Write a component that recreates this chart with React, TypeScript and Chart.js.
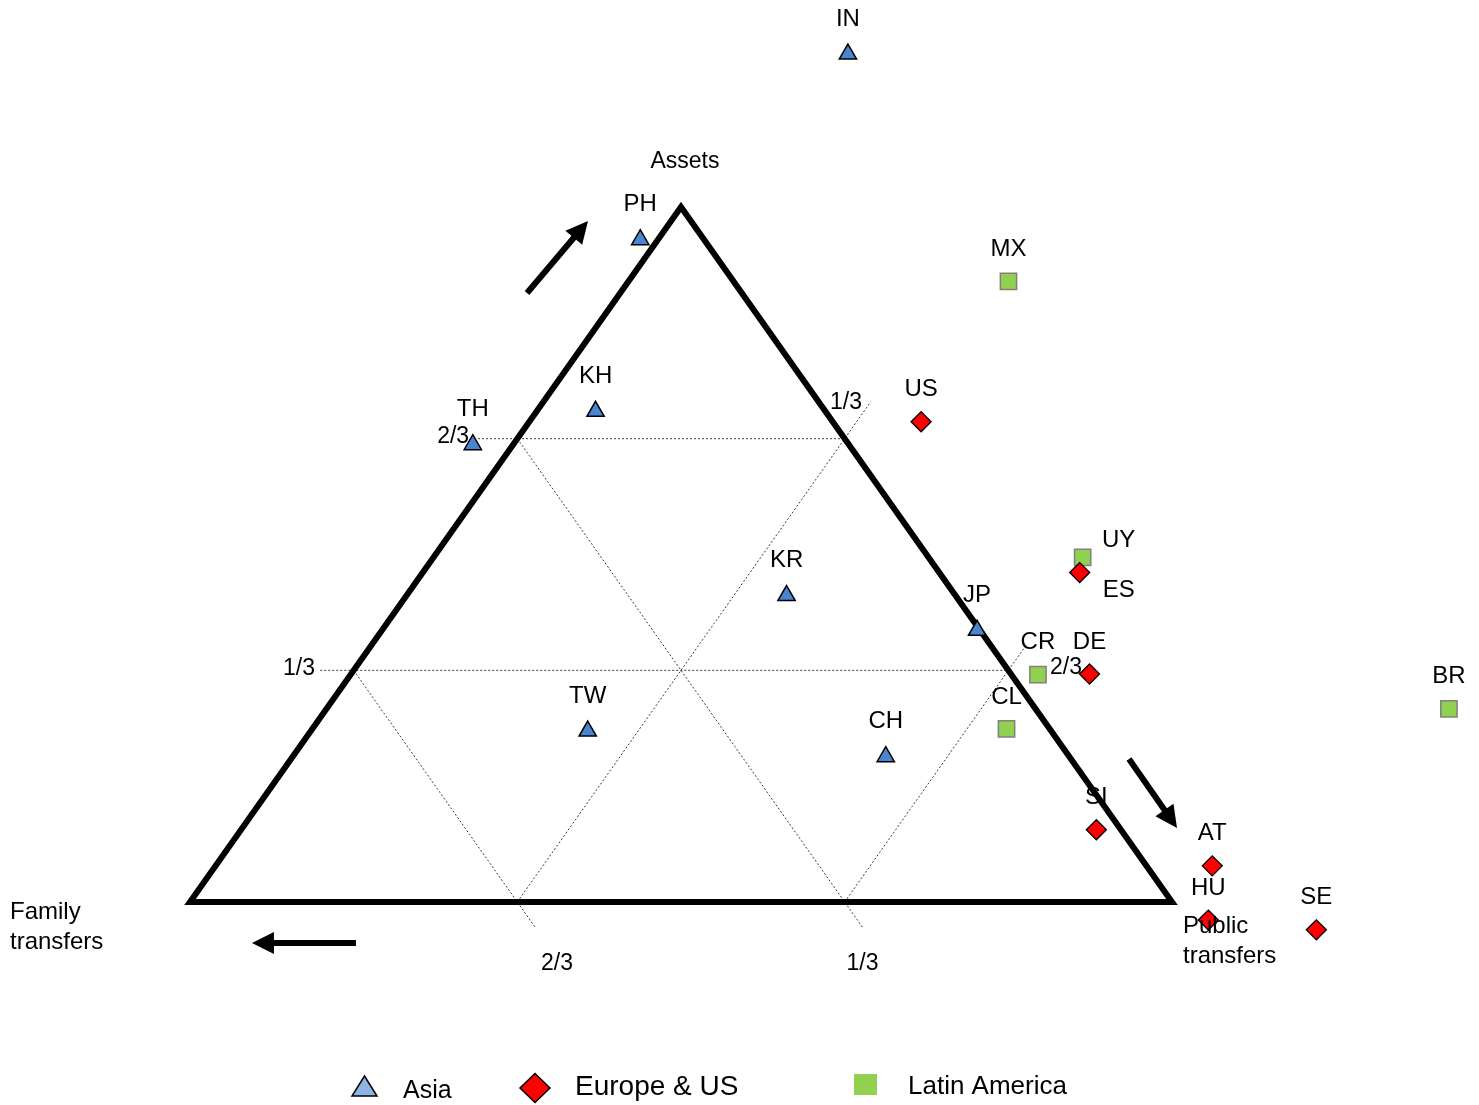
import React, { useEffect, useRef } from "react";
import { Chart, registerables } from "chart.js";

Chart.register(...registerables);

// ---------- data (ternary shares: assets, public transfers; family = 1 - assets - public) ----------
const seriesNames = ["Asia", "Europe & US", "Latin America"];

const asiaCodes = ["IN", "PH", "KH", "TH", "KR", "JP", "TW", "CH"];
const asiaAssets = [1.22, 0.953, 0.706, 0.658, 0.441, 0.391, 0.246, 0.209];
const asiaPublic = [0.06, -0.018, 0.06, -0.041, 0.387, 0.606, 0.282, 0.604];

const euroCodes = ["US", "ES", "DE", "SI", "AT", "HU", "SE"];
const euroAssets = [0.691, 0.474, 0.328, 0.104, 0.052, -0.026, -0.04];
const euroPublic = [0.399, 0.669, 0.752, 0.871, 1.015, 1.05, 1.167];

const latamCodes = ["MX", "UY", "CR", "CL", "BR"];
const latamAssets = [0.893, 0.496, 0.327, 0.249, 0.278];
const latamPublic = [0.387, 0.661, 0.7, 0.707, 1.143];

const fractionLabels = ["1/3", "2/3"];

// ---------- geometry helpers ----------
const toXY = (a: number, p: number) => ({ x: p + a / 2, y: a });
const buildPoints = (as: number[], ps: number[]) => as.map((a, i) => toXY(a, ps[i]));

// grid segments in ternary coordinates [a1, p1, a2, p2]
const gridSegments = [
  [2 / 3, -0.04, 2 / 3, 1 / 3],
  [1 / 3, -0.034, 1 / 3, 2 / 3],
  [0, 1 / 3, 0.72, 1 / 3],
  [0, 2 / 3, 0.37, 2 / 3],
  [2 / 3, 0, -0.036, 0.7027],
  [1 / 3, 0, -0.036, 0.3693],
];

// fraction label anchors (data units, cap centre)
const fractionTexts = [
  { t: fractionLabels[1], x: 0.268, y: 0.672 },
  { t: fractionLabels[0], x: 0.111, y: 0.338 },
  { t: fractionLabels[1], x: 0.3737, y: -0.0863 },
  { t: fractionLabels[0], x: 0.6848, y: -0.0863 },
  { t: fractionLabels[0], x: 0.668, y: 0.7209 },
  { t: fractionLabels[1], x: 0.892, y: 0.3396 },
];

const axisTexts = [
  { lines: ["Assets"], x: 0.504, y: 1.0676, align: "center", size: 23 },
  { lines: ["Family", "transfers"], x: -0.1833, y: -0.0115, align: "left", size: 24 },
  { lines: ["Public", "transfers"], x: 1.0112, y: -0.0317, align: "left", size: 24 },
];

const arrows = [
  { x1: 0.3432, y1: 0.8763, x2: 0.4053, y2: 0.9799 },
  { x1: 0.9562, y1: 0.2058, x2: 1.0051, y2: 0.1065 },
  { x1: 0.169, y1: -0.059, x2: 0.0631, y2: -0.059 },
];

const labelOffsets: Record<string, [number, number]> = {
  UY: [36, -19],
  ES: [39, 15.5],
};

const legendLayout = [
  { mx: 364.5, my: 1086, tx: 403, base: 1098, size: 25, color: "#8db4e2" },
  { mx: 535, my: 1088, tx: 575, base: 1095, size: 28, color: "#ff0000" },
  { mx: 865.5, my: 1084.5, tx: 908, base: 1094, size: 26, color: "#92d050" },
];

const FONT = '"Liberation Sans", Arial, sans-serif';

const overlayPlugin = {
  id: "ternaryOverlay",
  afterDatasetsDraw(chart: any) {
    const ctx = chart.ctx;
    const xs = chart.scales.x;
    const ys = chart.scales.y;
    const X = (v: number) => xs.getPixelForValue(v);
    const Y = (v: number) => ys.getPixelForValue(v);
    ctx.save();

    // arrows
    arrows.forEach((a) => {
      const x1 = X(a.x1), y1 = Y(a.y1), x2 = X(a.x2), y2 = Y(a.y2);
      const ang = Math.atan2(y2 - y1, x2 - x1);
      const hl = 22, hw = 11;
      const bx = x2 - Math.cos(ang) * hl;
      const by = y2 - Math.sin(ang) * hl;
      ctx.strokeStyle = "#000";
      ctx.lineWidth = 6;
      ctx.lineCap = "butt";
      ctx.beginPath();
      ctx.moveTo(x1, y1);
      ctx.lineTo(bx + Math.cos(ang) * 2, by + Math.sin(ang) * 2);
      ctx.stroke();
      ctx.fillStyle = "#000";
      ctx.beginPath();
      ctx.moveTo(x2, y2);
      ctx.lineTo(bx - Math.sin(ang) * hw, by + Math.cos(ang) * hw);
      ctx.lineTo(bx + Math.sin(ang) * hw, by - Math.cos(ang) * hw);
      ctx.closePath();
      ctx.fill();
    });

    ctx.fillStyle = "#000";
    ctx.textBaseline = "alphabetic";

    // point labels
    chart.data.datasets.forEach((ds: any, i: number) => {
      if (!ds.codes) return;
      const meta = chart.getDatasetMeta(i);
      ctx.font = `24px ${FONT}`;
      ctx.textAlign = "center";
      meta.data.forEach((el: any, j: number) => {
        const code = ds.codes[j];
        const off = labelOffsets[code] || [0, -ds.labelLift];
        ctx.fillText(code, el.x + off[0], el.y + off[1] + 24 * 0.358);
      });
    });

    // fraction labels
    ctx.font = `23px ${FONT}`;
    ctx.textAlign = "center";
    fractionTexts.forEach((f) => {
      ctx.fillText(f.t, X(f.x), Y(f.y) + 23 * 0.358);
    });

    // axis titles
    axisTexts.forEach((t) => {
      ctx.font = `${t.size}px ${FONT}`;
      ctx.textAlign = t.align;
      t.lines.forEach((line, k) => {
        ctx.fillText(line, X(t.x), Y(t.y) + k * 30 + t.size * 0.358);
      });
    });

    // legend
    const pointSets = chart.data.datasets.filter((d: any) => d.codes);
    pointSets.forEach((ds: any, i: number) => {
      const L = legendLayout[i];
      ctx.beginPath();
      if (ds.pointStyle === "triangle") {
        ctx.moveTo(L.mx, L.my - 10);
        ctx.lineTo(L.mx + 12.5, L.my + 10);
        ctx.lineTo(L.mx - 12.5, L.my + 10);
        ctx.closePath();
        ctx.fillStyle = L.color;
        ctx.fill();
        ctx.lineWidth = 1.5;
        ctx.strokeStyle = "#000";
        ctx.stroke();
      } else if (ds.pointStyle === "rectRot") {
        ctx.moveTo(L.mx, L.my - 14.5);
        ctx.lineTo(L.mx + 15, L.my);
        ctx.lineTo(L.mx, L.my + 14.5);
        ctx.lineTo(L.mx - 15, L.my);
        ctx.closePath();
        ctx.fillStyle = L.color;
        ctx.fill();
        ctx.lineWidth = 1.5;
        ctx.strokeStyle = "#000";
        ctx.stroke();
      } else {
        ctx.fillStyle = L.color;
        ctx.fillRect(L.mx - 11.5, L.my - 10.5, 23, 21);
      }
      ctx.fillStyle = "#000";
      ctx.font = `${L.size}px ${FONT}`;
      ctx.textAlign = "left";
      ctx.fillText(ds.label, L.tx, L.base);
    });

    ctx.restore();
  },
};

export default function App() {
  const canvasRef = useRef<HTMLCanvasElement | null>(null);

  useEffect(() => {
    document.body.style.margin = "0";
    const canvas = canvasRef.current;
    if (!canvas) return;

    const gridDatasets = gridSegments.map((s) => ({
      type: "line" as const,
      data: [toXY(s[0], s[1]), toXY(s[2], s[3])],
      borderColor: "#3a3a3a",
      borderWidth: 1,
      borderDash: [2, 2],
      pointRadius: 0,
      fill: false,
      order: 3,
      clip: false,
    }));

    const triangle = {
      type: "line" as const,
      data: [toXY(0, 0), toXY(0, 1), toXY(1, 0), toXY(0, 0), toXY(0, 1)],
      borderColor: "#000",
      borderWidth: 6,
      borderJoinStyle: "miter",
      pointRadius: 0,
      fill: false,
      order: 2,
      clip: false,
    };

    const pointSets = [
      {
        type: "scatter" as const,
        label: seriesNames[0],
        codes: asiaCodes,
        labelLift: 37,
        data: buildPoints(asiaAssets, asiaPublic),
        pointStyle: "triangle",
        pointRadius: 10,
        pointHoverRadius: 10,
        backgroundColor: "#4a86d0",
        borderColor: "#000",
        borderWidth: 1.5,
        order: 0,
        clip: false,
      },
      {
        type: "scatter" as const,
        label: seriesNames[1],
        codes: euroCodes,
        labelLift: 34,
        data: buildPoints(euroAssets, euroPublic),
        pointStyle: "rectRot",
        pointRadius: 10,
        pointHoverRadius: 10,
        backgroundColor: "#ff0000",
        borderColor: "#000",
        borderWidth: 1.3,
        order: 0,
        clip: false,
      },
      {
        type: "scatter" as const,
        label: seriesNames[2],
        codes: latamCodes,
        labelLift: 34,
        data: buildPoints(latamAssets, latamPublic),
        pointStyle: "rect",
        pointRadius: 11.5,
        pointHoverRadius: 11.5,
        backgroundColor: "#92d050",
        borderColor: "#808080",
        borderWidth: 1.5,
        order: 0,
        clip: false,
      },
    ];

    const chart = new Chart(canvas, {
      type: "scatter",
      data: { datasets: [...pointSets, triangle, ...gridDatasets] as any },
      options: {
        animation: false,
        responsive: false,
        events: [],
        layout: { padding: 0, autoPadding: false },
        plugins: {
          legend: { display: false },
          tooltip: { enabled: false },
        },
        scales: {
          x: { type: "linear", display: false, min: -0.19348, max: 1.31263 },
          y: { type: "linear", display: false, min: -0.29209, max: 1.29784 },
        },
      },
      plugins: [overlayPlugin],
    });

    return () => chart.destroy();
  }, []);

  return (
    <div style={{ width: 1479, height: 1105, background: "#fff" }}>
      <canvas ref={canvasRef} width={1479} height={1105} />
    </div>
  );
}
